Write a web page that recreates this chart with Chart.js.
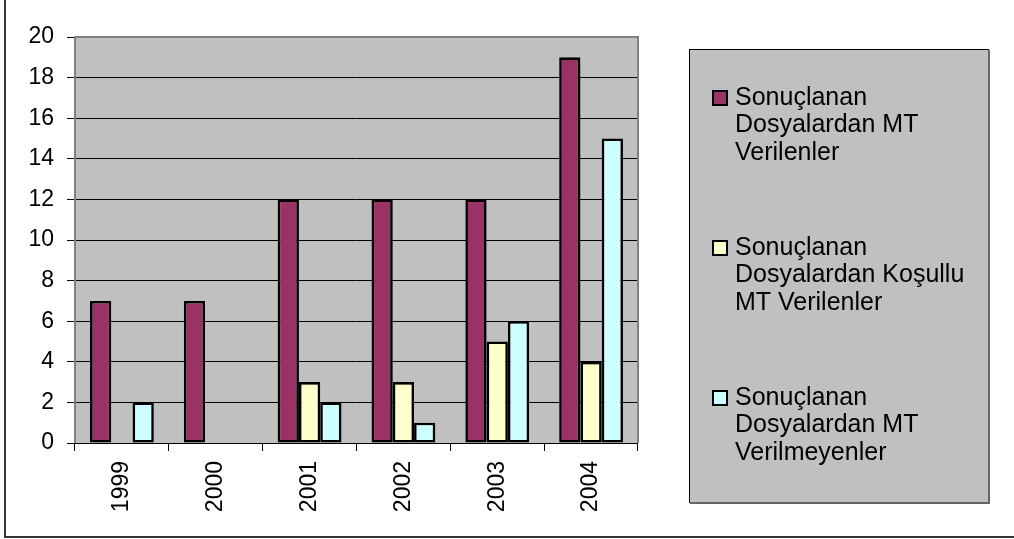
<!DOCTYPE html>
<html>
<head>
<meta charset="utf-8">
<script src="https://cdn.jsdelivr.net/npm/chart.js@4.4.0/dist/chart.umd.min.js"></script>
<style>
  html, body { margin: 0; padding: 0; background: #fff; }
  #wrap { width: 1014px; height: 539px; }
</style>
</head>
<body>
<div id="wrap"><canvas id="c" width="1014" height="539"></canvas></div>
<script>
const categories = ['1999', '2000', '2001', '2002', '2003', '2004'];
const mtVerilenler = [7, 7, 12, 12, 12, 19];
const kosulluMtVerilenler = [0, 0, 3, 3, 5, 4];
const mtVerilmeyenler = [2, 0, 2, 1, 6, 15];
const yTicks = [0, 2, 4, 6, 8, 10, 12, 14, 16, 18, 20];
const legendLines = [
  ['Sonuçlanan', 'Dosyalardan MT', 'Verilenler'],
  ['Sonuçlanan', 'Dosyalardan Koşullu', 'MT Verilenler'],
  ['Sonuçlanan', 'Dosyalardan MT', 'Verilmeyenler']
];
const seriesColors = ['#993366', '#FFFFCC', '#CCFFFF'];

const FONT = "'Liberation Sans', Arial, sans-serif";

const framePlugin = {
  id: 'frame',
  beforeDraw(chart) {
    const ctx = chart.ctx;
    const a = chart.chartArea;
    ctx.save();
    ctx.fillStyle = '#ffffff';
    ctx.fillRect(0, 0, chart.width, chart.height);
    ctx.fillStyle = '#C0C0C0';
    ctx.fillRect(a.left, a.top, a.right - a.left, a.bottom - a.top);
    ctx.restore();
  },
  afterDraw(chart) {
    const ctx = chart.ctx;
    const a = chart.chartArea;
    ctx.save();
    ctx.strokeStyle = '#808080';
    ctx.lineWidth = 2;
    ctx.beginPath();
    ctx.moveTo(a.left, a.bottom);
    ctx.lineTo(a.left, a.top);
    ctx.lineTo(a.right, a.top);
    ctx.lineTo(a.right, a.bottom);
    ctx.stroke();
    ctx.strokeStyle = '#000';
    ctx.lineWidth = 1;
    ctx.beginPath();
    ctx.moveTo(a.left, a.bottom + 0.5);
    ctx.lineTo(a.right, a.bottom + 0.5);
    ctx.stroke();

    ctx.strokeStyle = '#333333';
    ctx.lineWidth = 2;
    ctx.beginPath();
    ctx.moveTo(5, 0);
    ctx.lineTo(5, 537);
    ctx.lineTo(1014, 537);
    ctx.stroke();

    const lx = 689, ly = 49, lw = 299, lh = 453;
    ctx.fillStyle = '#C0C0C0';
    ctx.fillRect(lx, ly, lw, lh);
    ctx.strokeStyle = '#000';
    ctx.lineWidth = 1;
    ctx.strokeRect(lx + 0.5, ly + 0.5, lw, lh);
    ctx.strokeStyle = '#666';
    ctx.lineWidth = 2;
    ctx.beginPath();
    ctx.moveTo(lx + lw + 1, ly + 1);
    ctx.lineTo(lx + lw + 1, ly + lh + 1);
    ctx.lineTo(lx + 1, ly + lh + 1);
    ctx.stroke();

    ctx.font = '25px ' + FONT;
    ctx.textBaseline = 'middle';
    ctx.textAlign = 'left';
    const ds = chart.data.datasets;
    for (let i = 0; i < ds.length; i++) {
      const y0 = 98 + i * 150;
      ctx.fillStyle = ds[i].backgroundColor;
      ctx.fillRect(713, y0 - 7, 14, 14);
      ctx.strokeStyle = '#000';
      ctx.lineWidth = 2;
      ctx.strokeRect(713, y0 - 7, 14, 14);
      ctx.fillStyle = '#000';
      const lines = legendLines[i];
      for (let j = 0; j < lines.length; j++) {
        ctx.fillText(lines[j], 735, y0 + j * 27.5);
      }
    }
    ctx.restore();
  }
};

const mkDs = (label, data, color) => ({
  label: label,
  data: data,
  backgroundColor: color,
  borderColor: '#000',
  borderWidth: 2.6,
  borderSkipped: false,
  categoryPercentage: 0.68,
  barPercentage: 1.0
});

new Chart(document.getElementById('c'), {
  type: 'bar',
  data: {
    labels: categories,
    datasets: [
      mkDs(legendLines[0].join(' '), mtVerilenler, seriesColors[0]),
      mkDs(legendLines[1].join(' '), kosulluMtVerilenler, seriesColors[1]),
      mkDs(legendLines[2].join(' '), mtVerilmeyenler, seriesColors[2])
    ]
  },
  options: {
    responsive: false,
    animation: false,
    devicePixelRatio: 1,
    layout: { padding: { left: 0, top: 37, right: 376, bottom: 0 } },
    plugins: {
      legend: { display: false },
      tooltip: { enabled: false }
    },
    scales: {
      x: {
        offset: true,
        grid: { display: true, drawOnChartArea: false, drawTicks: true, tickLength: 8, color: '#000', lineWidth: 1, offset: true },
        border: { display: false },
        ticks: { color: '#000', font: { family: FONT, size: 23 }, minRotation: 90, maxRotation: 90, padding: 10, autoSkip: false },
        afterFit(s) { s.height = 96; }
      },
      y: {
        min: 0, max: 20,
        afterBuildTicks(s) { s.ticks = yTicks.map(v => ({ value: v })); },
        grid: { color: '#000', lineWidth: 1, tickLength: 8, drawTicks: true },
        border: { display: false },
        ticks: { color: '#000', font: { family: FONT, size: 23 }, padding: 13 },
        afterFit(s) { s.width = 75; }
      }
    }
  },
  plugins: [framePlugin]
});
</script>
</body>
</html>
